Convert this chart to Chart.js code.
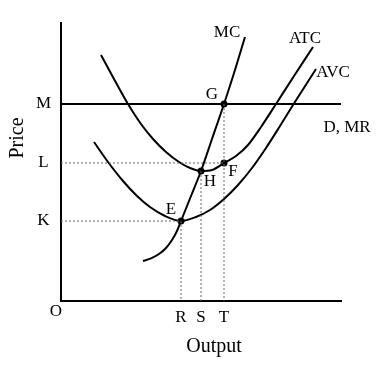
<!DOCTYPE html>
<html>
<head>
<meta charset="utf-8">
<script src="https://cdn.jsdelivr.net/npm/chart.js@4.4.1/dist/chart.umd.min.js"></script>
<style>
  html, body { margin: 0; padding: 0; background: #fff; }
  #wrap { width: 386px; height: 365px; position: relative; }
</style>
</head>
<body>
<div id="wrap"><canvas id="c"></canvas></div>
<script>
// ---- data (output units on x, price units on y) ----
const mcX  = [4.1, 4.5, 4.9, 5.25, 5.55, 5.8, 6.0, 6.5, 7.0, 7.55, 8.15, 8.7, 9.2];
const mcY  = [2.0, 2.13, 2.35, 2.65, 3.05, 3.5, 4.0, 5.25, 6.5, 8.1, 9.85, 11.55, 13.2];
const atcX = [2.0, 2.65, 3.35, 4.0, 4.6, 5.25, 5.9, 6.45, 7.0, 7.55, 8.15, 8.75, 9.35, 10.0, 10.75, 11.65, 12.6];
const atcY = [12.3, 11.1, 9.85, 8.85, 8.1, 7.45, 6.95, 6.65, 6.5, 6.55, 6.9, 7.25, 7.8, 8.7, 9.85, 11.25, 12.7];
const avcX = [1.65, 2.35, 3.1, 3.8, 4.45, 5.2, 6.0, 6.75, 7.45, 8.15, 8.85, 9.55, 10.25, 10.95, 11.6, 12.75];
const avcY = [7.95, 6.95, 6.0, 5.25, 4.7, 4.25, 4.0, 4.2, 4.55, 5.1, 5.8, 6.65, 7.65, 8.75, 9.8, 11.6];
const demandX = [0, 14];           // D, MR horizontal line span
const yTickLabels = ['K', 'L', 'M'];
const yTickValues = [4.0, 6.9, 9.85];
const xTickLabels = ['R', 'S', 'T'];
const xTickValues = [6.0, 7.0, 8.15];
const hPriceY = 6.5;               // ATC minimum (point H)

const [K, L, M] = yTickValues;
const [R, S, T] = xTickValues;

const pts = (xs, ys) => xs.map((x, i) => ({ x, y: ys[i] }));
const ptE = { x: R, y: K }, ptH = { x: S, y: hPriceY }, ptF = { x: T, y: L }, ptG = { x: T, y: M };

const curve = (data) => ({
  data, showLine: true, pointRadius: 0, borderColor: '#000', borderWidth: 2,
  cubicInterpolationMode: 'monotone', fill: false
});
const dotted = (data) => ({
  data, showLine: true, pointRadius: 0, borderColor: '#666', borderWidth: 1,
  borderDash: [2, 2], fill: false
});

const datasets = [
  dotted([{ x: 0, y: L }, ptF]),
  dotted([{ x: 0, y: K }, ptE]),
  dotted([ptE, { x: R, y: 0 }]),
  dotted([ptH, { x: S, y: 0 }]),
  dotted([ptG, { x: T, y: 0 }]),
  curve(pts(mcX, mcY)),
  curve(pts(atcX, atcY)),
  curve(pts(avcX, avcY)),
  curve(demandX.map(x => ({ x, y: M }))),
  { data: [ptE, ptH, ptF, ptG], showLine: false, pointRadius: 3.5, pointBackgroundColor: '#000', pointBorderColor: '#000', pointBorderWidth: 0 }
];

// ---- text annotations (layout) ----
const FONT = "'Liberation Serif', 'Times New Roman', serif";
const labels = [
  { t: 'MC',     x: 8.3,   y: 13.4, size: 17 },
  { t: 'ATC',    x: 12.2,  y: 13.1, size: 17 },
  { t: 'AVC',    x: 13.6,  y: 11.4, size: 17 },
  { t: 'D, MR',  x: 14.3,  y: 8.65, size: 17 },
  { t: 'G',      x: 7.55,  y: 10.3, size: 17 },
  { t: 'H',      x: 7.45,  y: 5.95, size: 17 },
  { t: 'F',      x: 8.6,   y: 6.45, size: 17 },
  { t: 'E',      x: 5.5,   y: 4.55, size: 17 },
  { t: 'O',      x: -0.25, y: -0.55, size: 17 },
  { t: 'Output', x: 7.65,  y: -2.3, size: 20 },
  { t: 'Price',  x: -2.15, y: 8.15, size: 20, rot: true }
];

const textPlugin = {
  id: 'texts',
  afterDatasetsDraw(chart) {
    const { ctx, scales: { x, y } } = chart;
    ctx.save();
    ctx.fillStyle = '#000';
    ctx.textAlign = 'center';
    ctx.textBaseline = 'middle';
    for (const l of labels) {
      ctx.font = l.size + 'px ' + FONT;
      const px = x.getPixelForValue(l.x), py = y.getPixelForValue(l.y);
      if (l.rot) {
        ctx.save(); ctx.translate(px, py); ctx.rotate(-Math.PI / 2);
        ctx.fillText(l.t, 0, 0); ctx.restore();
      } else ctx.fillText(l.t, px, py);
    }
    ctx.restore();
  }
};

new Chart(document.getElementById('c'), {
  type: 'scatter',
  data: { datasets },
  options: {
    responsive: true, maintainAspectRatio: false, animation: false,
    layout: { padding: { left: 0, top: 23, right: 45, bottom: 0 } },
    plugins: { legend: { display: false }, tooltip: { enabled: false } },
    scales: {
      x: {
        type: 'linear', min: 0, max: 14,
        grid: { display: false, drawTicks: false },
        border: { display: true, color: '#000', width: 2 },
        afterBuildTicks: s => { s.ticks = xTickValues.map(v => ({ value: v })); },
        afterFit: s => { s.height = 64; },
        ticks: { padding: 6, color: '#000', font: { family: FONT, size: 17 },
                 callback: (v, i) => xTickLabels[i] }
      },
      y: {
        type: 'linear', min: 0, max: 13.9,
        grid: { display: false, drawTicks: false },
        border: { display: true, color: '#000', width: 2 },
        afterBuildTicks: s => { s.ticks = yTickValues.map(v => ({ value: v })); },
        afterFit: s => { s.width = 61; },
        ticks: { padding: 10, crossAlign: 'center', color: '#000', font: { family: FONT, size: 17 },
                 callback: (v, i) => yTickLabels[i] }
      }
    }
  },
  plugins: [textPlugin]
});
</script>
</body>
</html>
